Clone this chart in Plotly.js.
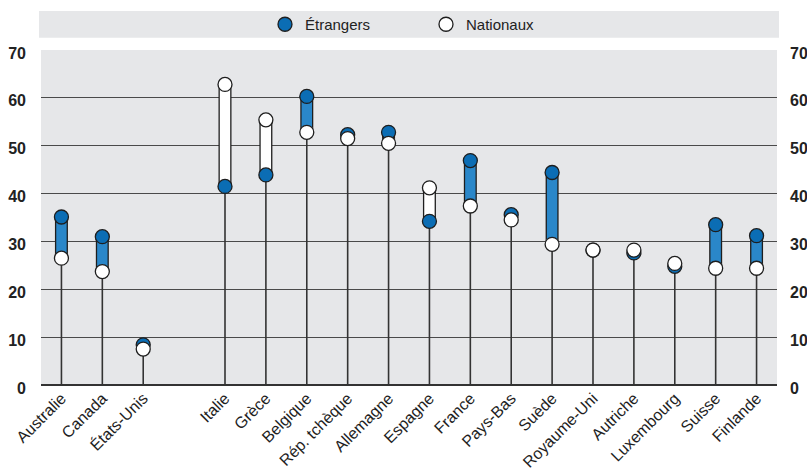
<!DOCTYPE html>
<html>
<head>
<meta charset="utf-8">
<script src="https://cdn.plot.ly/plotly-3.0.1.min.js"></script>
<style>
  html, body { margin: 0; padding: 0; background: #ffffff; }
  #chart { width: 807px; height: 468px; }
</style>
</head>
<body>
<div id="chart"></div>
<script>
// ---- Data ----
const categories = ['Australie', 'Canada', 'États-Unis', 'Italie', 'Grèce', 'Belgique', 'Rép. tchèque',
  'Allemagne', 'Espagne', 'France', 'Pays-Bas', 'Suède', 'Royaume-Uni', 'Autriche', 'Luxembourg',
  'Suisse', 'Finlande'];
const etrangers = [35.1, 31.0, 8.4, 41.5, 43.9, 60.3, 52.3, 52.8, 34.2, 46.9, 35.6, 44.4, 28.2, 27.6, 24.8, 33.5, 31.2];
const nationaux = [26.5, 23.7, 7.5, 62.8, 55.4, 52.8, 51.5, 50.5, 41.2, 37.4, 34.5, 29.4, 28.2, 28.2, 25.4, 24.4, 24.4];
const seriesNames = ['Étrangers', 'Nationaux'];
const yTicks = [0, 10, 20, 30, 40, 50, 60, 70];
const groupSize = 3; // first group (non-European countries), then a gap slot

// ---- Layout helpers ----
const pos = categories.map((c, i) => (i < groupSize ? i : i + 1));

function segs(filterFn, lowFn, highFn) {
  const xs = [], ys = [];
  categories.forEach((c, i) => {
    if (!filterFn(i)) return;
    xs.push(pos[i], pos[i], null);
    ys.push(lowFn(i), highFn(i), null);
  });
  return { x: xs, y: ys };
}
const lo = i => Math.min(etrangers[i], nationaux[i]);
const hi = i => Math.max(etrangers[i], nationaux[i]);

const DARK = '#1e1e1e';
const BLUE_DOT = '#0b6db4';
const BLUE_BAR = '#2a87c9';
const FONT = "'Liberation Sans', Arial, sans-serif";

const stems = segs(() => true, () => 0, lo);
const border = segs(i => hi(i) - lo(i) > 0.01, lo, hi);
const blueFill = segs(i => etrangers[i] > nationaux[i], lo, hi);
const whiteFill = segs(i => nationaux[i] > etrangers[i], lo, hi);

const traces = [
  { x: stems.x, y: stems.y, mode: 'lines', line: { color: '#333333', width: 1.6 },
    showlegend: false, hoverinfo: 'skip' },
  { x: border.x, y: border.y, mode: 'lines', line: { color: DARK, width: 13 },
    showlegend: false, hoverinfo: 'skip' },
  { x: blueFill.x, y: blueFill.y, mode: 'lines', line: { color: BLUE_BAR, width: 10.4 },
    showlegend: false, hoverinfo: 'skip' },
  { x: whiteFill.x, y: whiteFill.y, mode: 'lines', line: { color: '#ffffff', width: 10.4 },
    showlegend: false, hoverinfo: 'skip' },
  { x: pos, y: etrangers, name: seriesNames[0], mode: 'markers', type: 'scatter',
    marker: { size: 14, color: BLUE_DOT, line: { color: DARK, width: 1.3 } },
    text: categories, hovertemplate: '%{text}: %{y}<extra>' + seriesNames[0] + '</extra>' },
  { x: pos, y: nationaux, name: seriesNames[1], mode: 'markers', type: 'scatter',
    marker: { size: 14, color: '#ffffff', line: { color: DARK, width: 1.3 } },
    text: categories, hovertemplate: '%{text}: %{y}<extra>' + seriesNames[1] + '</extra>' },
  { x: [pos[0]], y: [0], yaxis: 'y2', mode: 'markers', marker: { opacity: 0 },
    showlegend: false, hoverinfo: 'skip' }
];

const W = 807, H = 468;
const m = { l: 41, r: 30, t: 50, b: 83, autoexpand: false };
const plotW = W - m.l - m.r, plotH = H - m.t - m.b;
const px2x = p => (p - m.l) / plotW;
const px2y = p => (H - m.b - p) / plotH;

const layout = {
  width: W, height: H,
  margin: m,
  paper_bgcolor: '#ffffff',
  plot_bgcolor: '#e6e7e9',
  font: { family: FONT, size: 15, color: '#222222' },
  showlegend: true,
  legend: {
    orientation: 'h',
    x: px2x(265), xanchor: 'left',
    y: px2y(24.5), yanchor: 'middle',
    bgcolor: 'rgba(0,0,0,0)',
    font: { family: FONT, size: 15, color: '#222222' },
    entrywidth: 116, entrywidthmode: 'pixels',
    traceorder: 'normal'
  },
  xaxis: {
    range: [-0.5, 17.5],
    tickmode: 'array', tickvals: pos, ticktext: categories,
    tickangle: -45,
    tickfont: { family: FONT, size: 16, color: '#1e1e1e' },
    showgrid: false, zeroline: false, showline: false, ticks: '',
    automargin: false,
    fixedrange: true
  },
  yaxis: {
    range: [0, 70],
    tickmode: 'array', tickvals: yTicks,
    tickfont: { family: FONT, size: 16, color: '#222222', weight: 'bold' },
    showgrid: true, gridcolor: '#4a4a4a', gridwidth: 1.2,
    zeroline: true, zerolinecolor: '#333333', zerolinewidth: 2.6,
    showline: false, ticks: '',
    ticklabelstandoff: 14, ticklabelshift: 3,
    automargin: false,
    fixedrange: true
  },
  yaxis2: {
    overlaying: 'y', side: 'right',
    range: [0, 70],
    tickmode: 'array', tickvals: yTicks,
    tickfont: { family: FONT, size: 16, color: '#222222', weight: 'bold' },
    showgrid: false, zeroline: false, showline: false, ticks: '',
    ticklabelstandoff: 12, ticklabelshift: 3,
    automargin: false,
    fixedrange: true
  },
  shapes: [
    { type: 'rect', xref: 'paper', yref: 'paper', layer: 'below',
      x0: px2x(39), x1: px2x(779), y0: px2y(37.7), y1: px2y(11),
      fillcolor: '#e6e7e9', line: { width: 0 } }
  ]
};

Plotly.newPlot('chart', traces, layout, { displayModeBar: false, staticPlot: true });
</script>
</body>
</html>
